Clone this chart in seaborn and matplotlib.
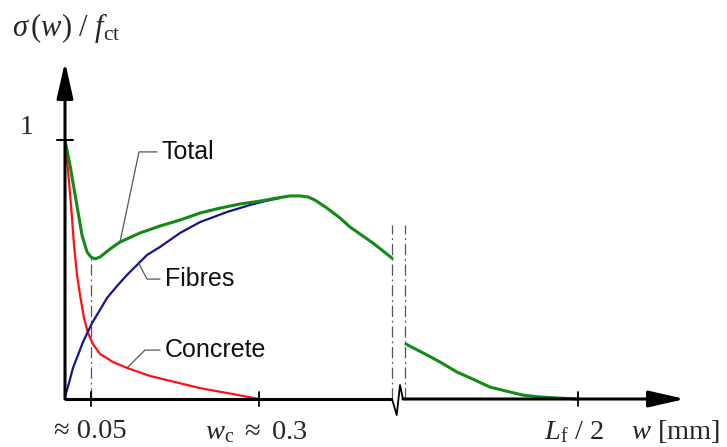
import numpy as np
import pandas as pd
import matplotlib
matplotlib.use("Agg")
import matplotlib.pyplot as plt
import seaborn as sns

# ---------------- data (schematic x units, y = sigma(w)/f_ct) ----------------
total_x1 = [0.00, 0.05, 0.11, 0.17, 0.22, 0.26, 0.30, 0.35, 0.45, 0.55, 0.75, 0.95, 1.15,
            1.35, 1.55, 1.75, 1.95, 2.12, 2.25, 2.35, 2.43, 2.50, 2.62, 2.75, 2.85, 3.08, 3.27]
total_y1 = [1.000, 0.903, 0.768, 0.633, 0.568, 0.548, 0.541, 0.548, 0.579, 0.606, 0.641, 0.668, 0.691,
            0.718, 0.737, 0.753, 0.764, 0.776, 0.784, 0.784, 0.780, 0.768, 0.737, 0.699, 0.664, 0.602, 0.544]
total_x2 = [3.41, 3.58, 3.75, 3.92, 4.10, 4.25, 4.45, 4.58, 4.75, 4.92, 5.13]
total_y2 = [0.212, 0.178, 0.143, 0.104, 0.073, 0.046, 0.027, 0.015, 0.008, 0.004, 0.000]

concrete_x = [0.00, 0.03, 0.06, 0.09, 0.12, 0.15, 0.19, 0.23, 0.28, 0.35, 0.48, 0.62, 0.85,
              1.02, 1.35, 1.68, 1.94]
concrete_y = [1.000, 0.884, 0.749, 0.595, 0.479, 0.402, 0.313, 0.255, 0.212, 0.174, 0.143, 0.120, 0.089,
              0.073, 0.042, 0.019, 0.000]

fibres_x = [0.00, 0.04, 0.08, 0.13, 0.18, 0.27, 0.35, 0.42, 0.52, 0.62, 0.82, 0.95, 1.15,
            1.35, 1.62, 1.85, 2.00, 2.15]
fibres_y = [0.008, 0.062, 0.120, 0.170, 0.220, 0.293, 0.344, 0.390, 0.436, 0.479, 0.556, 0.587, 0.641,
            0.683, 0.722, 0.749, 0.764, 0.776]

xtick_pos = [0.26, 1.94, 5.13]
xtick_labels = ['≈ 0.05', r'$w_{\mathrm{c}}\ \approx\ 0.3$', r'$L_{\mathrm{f}}\ /\ 2$']
break_pos = [3.27, 3.40]
ytick_pos = [1.0]
ytick_labels = ['1']

# ---------------- styling ----------------
sns.set_theme(style="white")
plt.rcParams['font.family'] = ['Liberation Sans', 'DejaVu Sans']
plt.rcParams['mathtext.fontset'] = 'custom'
plt.rcParams['mathtext.rm'] = 'Liberation Serif'
plt.rcParams['mathtext.it'] = 'Liberation Serif:italic'
plt.rcParams['mathtext.bf'] = 'Liberation Serif:bold'

GREEN = '#138a13'
RED = '#ff1010'
BLUE = '#14148c'
GRAY = '#555555'

fig = plt.figure(figsize=(7.27, 4.47), dpi=100)
ax = fig.add_axes([0, 0, 1, 1])
ax.set_axis_off()

# ---------------- curves ----------------
df_c = pd.DataFrame({'x': concrete_x, 'y': concrete_y})
df_f = pd.DataFrame({'x': fibres_x, 'y': fibres_y})
df_t = pd.DataFrame({'x': total_x1 + total_x2, 'y': total_y1 + total_y2,
                     'seg': [1] * len(total_x1) + [2] * len(total_x2)})

common = dict(sort=False, estimator=None, legend=False, solid_joinstyle='round',
              solid_capstyle='round')
sns.lineplot(data=df_c, x='x', y='y', ax=ax, color=RED, linewidth=1.6, zorder=3, **common)
sns.lineplot(data=df_f, x='x', y='y', ax=ax, color=BLUE, linewidth=1.6, zorder=3, **common)
sns.lineplot(data=df_t, x='x', y='y', units='seg', ax=ax, color=GREEN, linewidth=2.2,
             zorder=4, **common)
ax.set_xlim(-0.65, 6.62)
ax.set_ylim(-0.1853, 1.5405)

# ---------------- axes drawn as arrows ----------------
AX_LW = 2.2
arrow_style = '-|>,head_length=2.2,head_width=0.5'
ax.annotate('', xy=(0, 1.301), xytext=(0, 0),
            arrowprops=dict(arrowstyle=arrow_style, mutation_scale=10, lw=AX_LW,
                            color='black', shrinkA=0, shrinkB=0), zorder=5)
ax.plot([0, break_pos[0]], [0, 0], color='black', lw=AX_LW, solid_capstyle='butt', zorder=5)
ax.plot([break_pos[0], break_pos[0] + 0.047, break_pos[0] + 0.08, break_pos[0] + 0.11],
        [0, -0.062, 0.054, 0], color='black', lw=1.3, zorder=5)
ax.annotate('', xy=(6.20, 0), xytext=(break_pos[0] + 0.11, 0),
            arrowprops=dict(arrowstyle=arrow_style, mutation_scale=10, lw=AX_LW,
                            color='black', shrinkA=0, shrinkB=0), zorder=5)

# ticks
for xp in xtick_pos:
    ax.plot([xp, xp], [-0.027, 0.027], color='black', lw=1.3, zorder=5)
for yp in ytick_pos:
    ax.plot([-0.08, 0.08], [yp, yp], color='black', lw=1.5, zorder=5)

# dash-dot guide lines
dd = (0, (9, 3, 1.5, 3))
ax.plot([xtick_pos[0]] * 2, [0, total_y1[5]], color=GRAY, lw=0.9, linestyle=dd, zorder=2)
for bp in break_pos:
    ax.plot([bp, bp], [0, 0.672], color=GRAY, lw=0.9, linestyle=dd, zorder=2)

# ---------------- labels ----------------
SERIF = ['Liberation Serif', 'DejaVu Serif']
ax.text(-0.53, 1.432, r'$\sigma\,(w)\ /\ f_{\mathrm{ct}}$', fontsize=22, ha='left', va='center',
        family=SERIF)
ax.text(-0.38, 1.05, ytick_labels[0], fontsize=20, ha='center', va='center', family=SERIF)
label_x = [0.25, 1.91, 5.09]
for lx, lab in zip(label_x, xtick_labels):
    ax.text(lx, -0.127, lab, fontsize=20.5, ha='center', va='center', family=SERIF)
ax.text(6.11, -0.127, r'$w$ [mm]', fontsize=20.5, ha='center', va='center', family=SERIF)

# leader annotations
def leader(anchor, elbow, end, text):
    ax.plot([anchor[0], elbow[0], end[0]], [anchor[1], elbow[1], end[1]],
            color=GRAY, lw=0.9, zorder=6)
    ax.text(end[0] + 0.05, end[1], text, fontsize=18, ha='left', va='center',
            color='#111111', family=['Liberation Sans', 'DejaVu Sans'])

leader((total_x1[9], total_y1[9]), (0.74, 0.954), (0.92, 0.954), 'Total')
leader((0.73, 0.529), (0.82, 0.463), (0.95, 0.463), 'Fibres')
leader((concrete_x[11], concrete_y[11]), (0.80, 0.189), (0.95, 0.189), 'Concrete')

fig.savefig('out.png', dpi=100)
